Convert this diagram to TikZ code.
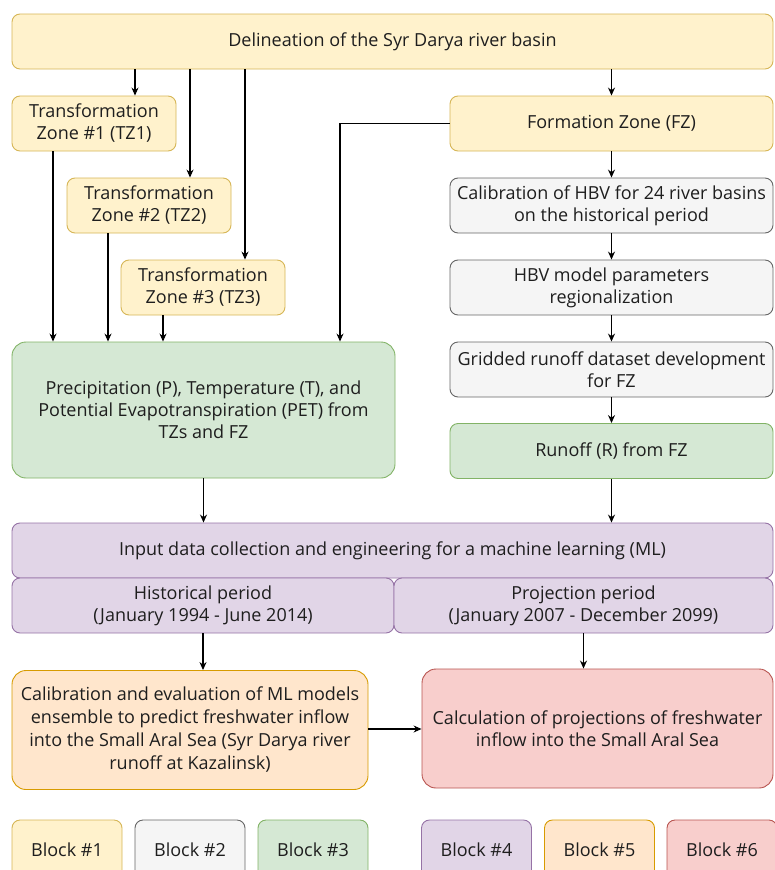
\documentclass[tikz,border=0pt]{standalone}
\usepackage{fontspec}
\setmainfont{Open Sans}
\usepackage{tikz}
\usetikzlibrary{arrows.meta,positioning,calc}
\definecolor{ylwfill}{HTML}{FFF2CC}
\definecolor{ylwdraw}{HTML}{D6B656}
\definecolor{gryfill}{HTML}{F5F5F5}
\definecolor{grydraw}{HTML}{666666}
\definecolor{grnfill}{HTML}{D5E8D4}
\definecolor{grndraw}{HTML}{82B366}
\definecolor{prpfill}{HTML}{E1D5E7}
\definecolor{prpdraw}{HTML}{9673A6}
\definecolor{orgfill}{HTML}{FFE6CC}
\definecolor{orgdraw}{HTML}{D79B00}
\definecolor{redfill}{HTML}{F8CECC}
\definecolor{reddraw}{HTML}{B85450}
\definecolor{txt}{HTML}{1E1E1E}
\tikzset{
  blk/.style  = {rectangle, rounded corners=8pt, line width=0.9pt,
                 minimum height=55pt, inner sep=1pt, align=center,
                 text=txt, font=\fontsize{18}{22}\selectfont},
  ylw/.style  = {blk, fill=ylwfill, draw=ylwdraw},
  gry/.style  = {blk, fill=gryfill, draw=grydraw},
  grn/.style  = {blk, fill=grnfill, draw=grndraw},
  prp/.style  = {blk, fill=prpfill, draw=prpdraw},
  org/.style  = {blk, fill=orgfill, draw=orgdraw},
  rd/.style   = {blk, fill=redfill, draw=reddraw},
  arr/.style  = {-{Stealth[length=8pt,width=7pt]}, line width=1.1pt, draw=black},
}
\begin{document}
\begin{tikzpicture}[x=1pt,y=-1pt]
  \useasboundingbox (0,0) rectangle (774,870);
  % basin and zones
  \node[ylw, minimum width=761pt] (basin) at (392.5,41.5) {Delineation of the Syr Darya river basin};
  \node[ylw, minimum width=164pt] (tz1) at (94,123.5) {Transformation\\Zone \#1 (TZ1)};
  \node[ylw, minimum width=164pt] (tz2) at (149,205.5) {Transformation\\Zone \#2 (TZ2)};
  \node[ylw, minimum width=164pt] (tz3) at (203,287.5) {Transformation\\Zone \#3 (TZ3)};
  \node[ylw, minimum width=323pt] (fz) at (611.5,123.5) {Formation Zone (FZ)};
  % HBV chain
  \node[gry, minimum width=323pt] (hbvcal) at (611.5,205.5) {Calibration of HBV for 24 river basins\\on the historical period};
  \node[gry, minimum width=323pt] (hbvreg) at (611.5,287.5) {HBV model parameters\\regionalization};
  \node[gry, minimum width=323pt] (grid) at (611.5,369.5) {Gridded runoff dataset development\\for FZ};
  \node[grn, minimum width=323pt] (runoff) at (611.5,451) {Runoff (R) from FZ};
  \node[grn, minimum width=383pt, minimum height=136pt, rounded corners=14pt] (pte) at (203.5,410)
    {Precipitation (P), Temperature (T), and\\Potential Evapotranspiration (PET) from\\TZs and FZ};
  % machine learning
  \node[prp, minimum width=761pt] (ml) at (392.5,550.5) {Input data collection and engineering for a machine learning (ML)};
  \node[prp, minimum width=382pt] (hist) at (203,605.5) {Historical period\\(January 1994 - June 2014)};
  \node[prp, minimum width=379pt] (proj) at (583.5,605.5) {Projection period\\(January 2007 - December 2099)};
  \node[org, minimum width=356pt, minimum height=119pt, rounded corners=14pt,
        font=\fontsize{18}{23}\selectfont] (calml) at (190,730)
    {Calibration and evaluation of ML models\\ensemble to predict freshwater inflow\\into the Small Aral Sea (Syr Darya river\\runoff at Kazalinsk)};
  \node[rd, minimum width=351pt, minimum height=119pt, rounded corners=14pt] (calproj) at (597.5,728.5)
    {Calculation of projections of freshwater\\inflow into the Small Aral Sea};
  % legend
  \foreach \n/\x/\s in {1/67/ylw, 2/190/gry, 3/313/grn, 4/476.5/prp, 5/599.5/org, 6/722/rd}{
    \node[\s, minimum width=110pt, minimum height=60pt] (leg\n) at (\x,850) {Block \#\n};
  }
  % connectors
  \draw[arr] (basin.south -| 135,0) -- (tz1.north -| 135,0);
  \draw[arr] (basin.south -| 190,0) -- (tz2.north -| 190,0);
  \draw[arr] (basin.south -| 245,0) -- (tz3.north -| 245,0);
  \draw[arr] (basin.south -| fz) -- (fz);
  \draw[arr] (tz1.south -| 53,0) -- (pte.north -| 53,0);
  \draw[arr] (tz2.south -| 108,0) -- (pte.north -| 108,0);
  \draw[arr] (tz3.south -| 163,0) -- (pte.north -| 163,0);
  \draw[arr] (fz.west) -| (pte.north -| 340,0);
  \draw[arr] (fz) -- (hbvcal);
  \draw[arr] (hbvcal) -- (hbvreg);
  \draw[arr] (hbvreg) -- (grid);
  \draw[arr] (grid) -- (runoff);
  \draw[arr] (pte) -- (ml.north -| pte);
  \draw[arr] (runoff) -- (ml.north -| runoff);
  \draw[arr] (hist) -- (calml.north -| hist);
  \draw[arr] (proj) -- (calproj.north -| proj);
  \draw[arr] (calml.east |- 0,729) -- (calproj.west |- 0,729);
\end{tikzpicture}
\end{document}
